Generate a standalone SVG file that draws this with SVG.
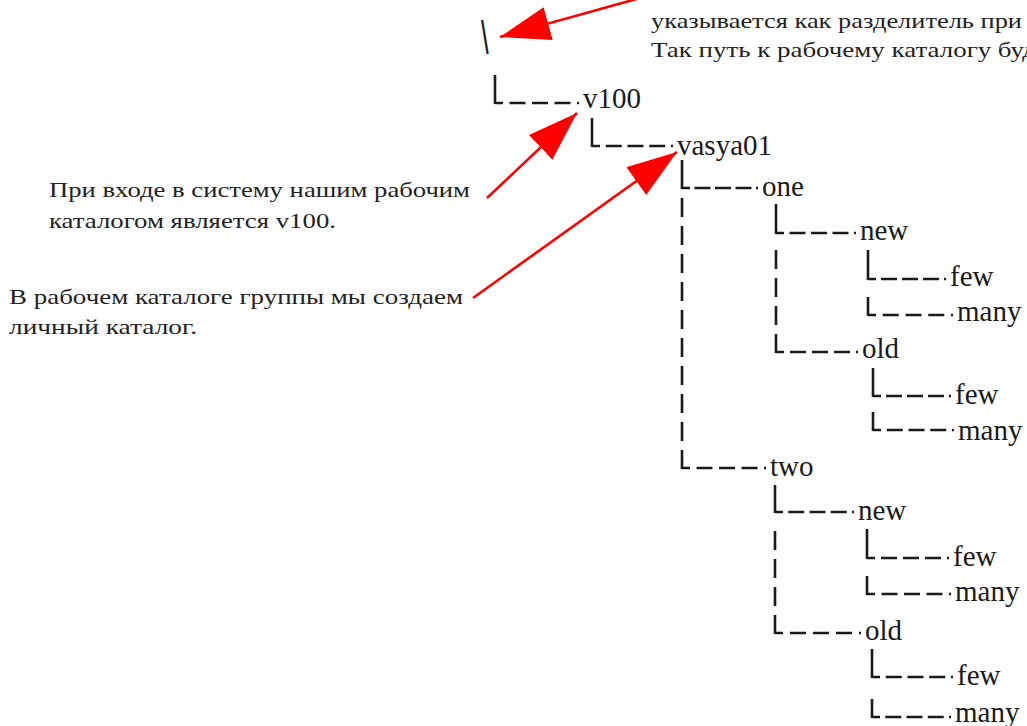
<svg xmlns="http://www.w3.org/2000/svg" width="1027" height="726" viewBox="0 0 1027 726">
<style>
.lbl{font-family:"Liberation Serif","Times New Roman",serif;font-size:29px;fill:#1a1a1a}
.note{font-family:"Liberation Serif","Times New Roman",serif;font-size:22px;fill:#222}
.h{fill:none;stroke:#1a1a1a;stroke-width:2.6}
.v{fill:none;stroke:#1a1a1a;stroke-width:2.6;stroke-dasharray:19 9}
.vs{fill:none;stroke:#1a1a1a;stroke-width:2.6}
.arr{fill:none;stroke:#ff0000;stroke-width:2.6}
</style>
<defs>
<marker id="ah" markerUnits="userSpaceOnUse" markerWidth="52" markerHeight="36" refX="50" refY="17" orient="auto" viewBox="0 0 52 36">
<path d="M0,0 L50,17 L0,34 z" fill="#ff0000"/>
</marker>
</defs>
<rect width="1027" height="726" fill="#ffffff"/>

<g id="notes">
<text class="note" x="651" y="28" textLength="371" lengthAdjust="spacingAndGlyphs">указывается как разделитель при</text>
<text class="note" x="651" y="57" textLength="385" lengthAdjust="spacingAndGlyphs">Так путь к рабочему каталогу буд</text>
<text class="note" x="49" y="197" textLength="421" lengthAdjust="spacingAndGlyphs">При входе в систему нашим рабочим</text>
<text class="note" x="49" y="228" textLength="287" lengthAdjust="spacingAndGlyphs">каталогом является v100.</text>
<text class="note" x="9" y="304" textLength="454" lengthAdjust="spacingAndGlyphs">В рабочем каталоге группы мы создаем</text>
<text class="note" x="9" y="334" textLength="188" lengthAdjust="spacingAndGlyphs">личный каталог.</text>
</g>

<g id="connectors">
<path class="vs" d="M495,104 V75"/>
<path class="h" d="M495,103 h8 m6.5,0 h16 m6.5,0 h16 m6.5,0 h16 m6.5,0 h2"/>
<path class="vs" d="M592,147 V118"/>
<path class="h" d="M592,146 h8 m5.75,0 h16 m5.75,0 h16 m5.75,0 h16 m5.75,0 h2"/>
<path class="vs" d="M682,189 V160"/>
<path class="h" d="M682,188 h8 m4.5,0 h16 m4.5,0 h16 m4.5,0 h16 m4.5,0 h2"/>
<path class="vs" d="M776,234 V204"/>
<path class="h" d="M776,233 h8 m5.5,0 h16 m5.5,0 h16 m5.5,0 h16 m5.5,0 h2"/>
<path class="vs" d="M868,280 V250"/>
<path class="h" d="M868,279 h8 m5,0 h16 m5,0 h16 m5,0 h16 m5,0 h2"/>
<path class="v" d="M868,316 V289"/>
<path class="h" d="M868,315 h8 m6.75,0 h16 m6.75,0 h16 m6.75,0 h16 m6.75,0 h2"/>
<path class="v" d="M776,353 V243"/>
<path class="h" d="M776,352 h8 m6,0 h16 m6,0 h16 m6,0 h16 m6,0 h2"/>
<path class="vs" d="M873,397 V368"/>
<path class="h" d="M873,396 h8 m5,0 h16 m5,0 h16 m5,0 h16 m5,0 h2"/>
<path class="v" d="M873,431 V405"/>
<path class="h" d="M873,430 h8 m5.75,0 h16 m5.75,0 h16 m5.75,0 h16 m5.75,0 h2"/>
<path class="v" d="M682,469 V198"/>
<path class="h" d="M682,468 h8 m6.5,0 h16 m6.5,0 h16 m6.5,0 h16 m6.5,0 h2"/>
<path class="vs" d="M775,513 V485"/>
<path class="h" d="M775,512 h8 m5.25,0 h16 m5.25,0 h16 m5.25,0 h16 m5.25,0 h2"/>
<path class="vs" d="M867,559 V529"/>
<path class="h" d="M867,558 h8 m6,0 h16 m6,0 h16 m6,0 h16 m6,0 h2"/>
<path class="v" d="M867,595 V568"/>
<path class="h" d="M867,594 h8 m6.5,0 h16 m6.5,0 h16 m6.5,0 h16 m6.5,0 h2"/>
<path class="v" d="M775,634 V522"/>
<path class="h" d="M775,633 h8 m7,0 h16 m7,0 h16 m7,0 h16 m7,0 h2"/>
<path class="vs" d="M872,678 V649"/>
<path class="h" d="M872,677 h8 m5.75,0 h16 m5.75,0 h16 m5.75,0 h16 m5.75,0 h2"/>
<path class="v" d="M872,718 V691"/>
<path class="h" d="M872,717 h8 m5.25,0 h16 m5.25,0 h16 m5.25,0 h16 m5.25,0 h2"/>
<path class="arr" d="M640,-2 L500,37" marker-end="url(#ah)"/>
<path class="arr" d="M487,198 L577,113" marker-end="url(#ah)"/>
<path class="arr" d="M473,298 L677,152" marker-end="url(#ah)"/>
</g>

<g id="root"><text x="481" y="54" style="font-family:'Liberation Sans',sans-serif;font-size:46px;fill:#1a1a1a" transform="translate(481,0) scale(0.6,1) translate(-481,0)">\</text></g>
<g id="v100"><text class="lbl" x="583" y="108">v100</text></g>
<g id="vasya01"><text class="lbl" x="677" y="155">vasya01</text></g>
<g id="one"><text class="lbl" x="762" y="196">one</text></g>
<g id="one-new"><text class="lbl" x="860" y="240">new</text></g>
<g id="one-new-few"><text class="lbl" x="950" y="286">few</text></g>
<g id="one-new-many"><text class="lbl" x="957" y="321">many</text></g>
<g id="one-old"><text class="lbl" x="862" y="358">old</text></g>
<g id="one-old-few"><text class="lbl" x="955" y="404">few</text></g>
<g id="one-old-many"><text class="lbl" x="958" y="440">many</text></g>
<g id="two"><text class="lbl" x="770" y="476">two</text></g>
<g id="two-new"><text class="lbl" x="858" y="520">new</text></g>
<g id="two-new-few"><text class="lbl" x="953" y="566">few</text></g>
<g id="two-new-many"><text class="lbl" x="955" y="601">many</text></g>
<g id="two-old"><text class="lbl" x="865" y="640">old</text></g>
<g id="two-old-few"><text class="lbl" x="957" y="685">few</text></g>
<g id="two-old-many"><text class="lbl" x="955" y="722">many</text></g>
</svg>
